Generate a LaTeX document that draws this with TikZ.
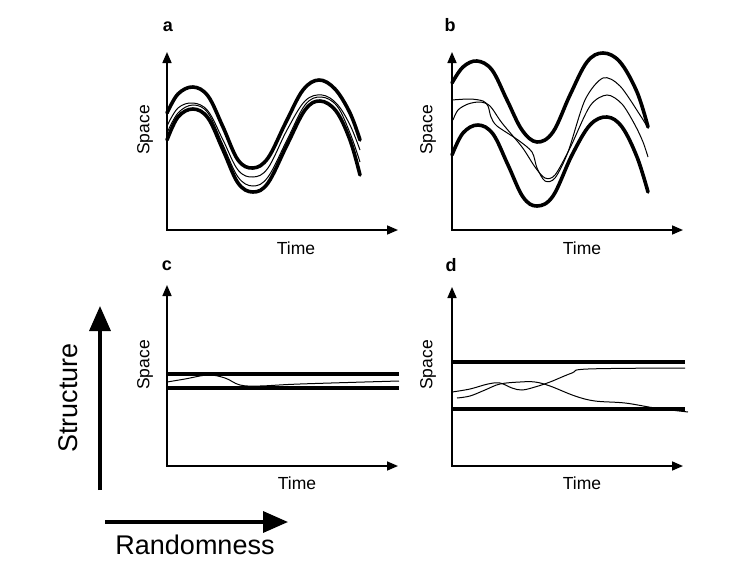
\documentclass[tikz,border=0pt]{standalone}
\usepackage{fontspec}
\setmainfont{Liberation Sans}
\usetikzlibrary{arrows.meta}
\begin{document}
\begin{tikzpicture}[x=1pt,y=-1pt,
  axisline/.style={line width=1.6pt,{Triangle[length=11pt,width=9pt]}-{Triangle[length=11pt,width=9pt]}},
  thickcurve/.style={line width=3.6pt,line cap=round},
  thincurve/.style={line width=1pt},
  bigarrow/.style={line width=3.4pt,-{Triangle[length=25pt,width=21pt]}},
  axlabel/.style={font=\fontsize{17.5}{20}\selectfont,inner sep=0pt},
  panellabel/.style={font=\fontsize{18}{20}\selectfont\bfseries,inner sep=0pt},
  biglabel/.style={font=\fontsize{27}{30}\selectfont,inner sep=0pt}]
\useasboundingbox (0,0) rectangle (747,570);

% ---------- panel a ----------
\coordinate (aO) at (167,230);
\coordinate (aY) at (167,52);
\coordinate (aX) at (398,230);
\draw[axisline] (aY) -- (aO) -- (aX);
\node[panellabel] (la) at (168,27) {a};
\node[axlabel,rotate=90] (sa) at (145,130) {Space};
\node[axlabel] (ta) at (296,248) {Time};
\draw[thickcurve] plot[smooth,tension=0.6] coordinates {(167,113) (178,94) (193,87) (208,96) (223,127) (238,160) (253,168) (268,158) (286,122) (303,90) (319,80) (335,89) (350,113) (360,140)};
\draw[thickcurve] plot[smooth,tension=0.6] coordinates {(167,140) (178,117) (193,109) (208,118) (223,150) (238,183) (253,192) (268,183) (287,145) (305,110) (320,101) (336,111) (350,140) (360,175)};
\draw[thincurve] plot[smooth,tension=0.6] coordinates {(167,126) (178,108) (193,103) (208,111) (223,140) (238,170) (253,177) (268,168) (287,130) (305,101) (322,95) (337,104) (350,125) (360,150)};
\draw[thincurve] plot[smooth,tension=0.6] coordinates {(167,133) (178,113) (193,105) (208,113) (223,145) (238,177) (253,186) (268,177) (287,140) (305,105) (321,97) (337,106) (350,133) (360,162)};

% ---------- panel b ----------
\coordinate (bO) at (452,230);
\coordinate (bY) at (452,52);
\coordinate (bX) at (683,230);
\draw[axisline] (bY) -- (bO) -- (bX);
\node[panellabel] (lb) at (450,25) {b};
\node[axlabel,rotate=90] (sb) at (428,130) {Space};
\node[axlabel] (tb) at (582,248) {Time};
\draw[thickcurve] plot[smooth,tension=0.6] coordinates {(452,83) (463,67) (477,61) (492,70) (507,100) (522,130) (537,142) (553,132) (570,95) (587,62) (603,53) (620,62) (637,92) (648,127)};
\draw[thickcurve] plot[smooth,tension=0.6] coordinates {(452,155) (463,133) (478,125) (493,134) (508,165) (523,197) (537,206) (553,196) (572,155) (590,125) (607,117) (622,127) (637,157) (648,192)};
\draw[thincurve] plot[smooth,tension=0.5] coordinates {(452,100) (470,99) (483,101) (488,106) (491,117) (497,126) (518,140) (532,152) (537,168) (545,181) (555,178) (568,152) (585,100) (603,78) (620,86) (640,115) (648,128)};
\draw[thincurve] plot[smooth,tension=0.5] coordinates {(453,120) (458,110) (468,104) (480,102) (490,106) (502,123) (522,147) (535,167) (545,178) (555,175) (570,148) (590,106) (607,95) (622,104) (635,125) (643,142) (648,157)};

% ---------- panel c ----------
\coordinate (cO) at (167,466);
\coordinate (cY) at (167,285);
\coordinate (cX) at (398,466);
\draw[axisline] (cY) -- (cO) -- (cX);
\node[panellabel] (lc) at (167,266) {c};
\node[axlabel,rotate=90] (sc) at (145,365) {Space};
\node[axlabel] (tc) at (297,483) {Time};
\coordinate (c1a) at (167,374); \coordinate (c1b) at (399,374);
\coordinate (c2a) at (167,388); \coordinate (c2b) at (399,388);
\draw[line width=3.4pt] (c1a) -- (c1b);
\draw[line width=3.4pt] (c2a) -- (c2b);
\draw[thincurve] plot[smooth,tension=0.6] coordinates {(167,382) (185,379) (208,375) (225,378) (240,385) (260,386) (300,384) (399,381)};

% ---------- panel d ----------
\coordinate (dO) at (452,466);
\coordinate (dY) at (452,287);
\coordinate (dX) at (683,466);
\draw[axisline] (dY) -- (dO) -- (dX);
\node[panellabel] (ld) at (451,265) {d};
\node[axlabel,rotate=90] (sd) at (428,365) {Space};
\node[axlabel] (td) at (582,483) {Time};
\coordinate (d1a) at (452,362); \coordinate (d1b) at (685,362);
\coordinate (d2a) at (452,409); \coordinate (d2b) at (685,409);
\draw[line width=3.4pt] (d1a) -- (d1b);
\draw[line width=3.4pt] (d2a) -- (d2b);
\draw[thincurve] plot[smooth,tension=0.6] coordinates {(452,392) (470,389) (488,384) (500,383) (512,388) (522,390) (535,387) (550,382) (572,373) (588,369) (685,368)};
\draw[thincurve] plot[smooth,tension=0.6] coordinates {(457,398) (470,396) (485,390) (500,384) (520,382) (535,382) (550,386) (575,396) (595,401) (625,403) (655,408) (688,412)};

% ---------- big arrows ----------
\coordinate (sS) at (100,490);
\coordinate (sE) at (100,306);
\draw[bigarrow] (sS) -- (sE);
\node[biglabel,rotate=90] (structure) at (68,398) {Structure};
\coordinate (rS) at (105,522);
\coordinate (rE) at (288,522);
\draw[bigarrow] (rS) -- (rE);
\node[biglabel] (random) at (195,545) {Randomness};
\end{tikzpicture}
\end{document}
